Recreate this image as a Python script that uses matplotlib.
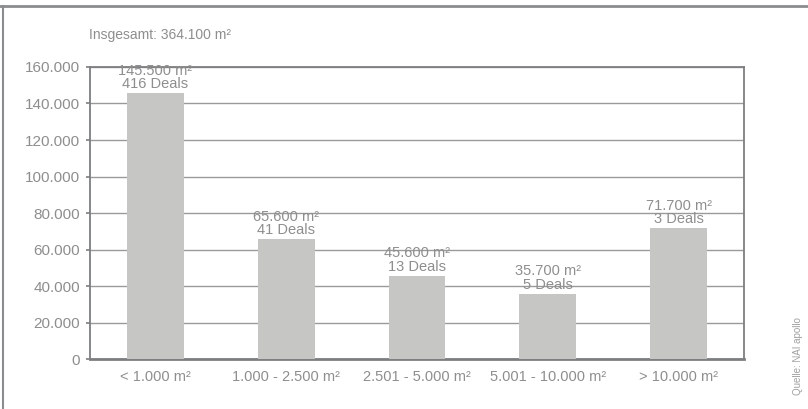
import matplotlib.pyplot as plt
from matplotlib.lines import Line2D

# Flächenumsatz nach Größenklassen
categories = ["< 1.000 m²", "1.000 - 2.500 m²", "2.501 - 5.000 m²",
              "5.001 - 10.000 m²", "> 10.000 m²"]
flaeche = [145500, 65600, 45600, 35700, 71700]
deals = [416, 41, 13, 5, 3]
yticks = [0, 20000, 40000, 60000, 80000, 100000, 120000, 140000, 160000]
gesamt = 364100


def fmt_de(v):
    return f"{v:,.0f}".replace(",", ".")


plt.rcParams['font.family'] = ['Liberation Sans', 'DejaVu Sans']
txt_col = '#8e8e8e'
bar_col = '#c6c6c4'
frame_col = '#7c7e80'

fig = plt.figure(figsize=(8.08, 4.09), dpi=100)
ax = fig.add_axes([0.1114, 0.1222, 0.8094, 0.714])

x = list(range(len(categories)))
bars = ax.bar(x, flaeche, width=0.435, color=bar_col, zorder=3)

for b, v, d in zip(bars, flaeche, deals):
    ax.annotate(f"{fmt_de(v)} m²\n{d} Deals",
                (b.get_x() + b.get_width() / 2, b.get_height()),
                xytext=(0, 1.5), textcoords='offset points',
                ha='center', va='bottom', fontsize=10.5, color=txt_col,
                linespacing=0.95, zorder=4)

ax.set_xlim(-0.5, len(categories) - 0.5)
ax.set_ylim(0, 160000)
ax.set_yticks(yticks)
ax.set_yticklabels([fmt_de(t) for t in yticks])
ax.set_xticks(x)
ax.set_xticklabels(categories)
ax.tick_params(axis='y', colors=frame_col, labelcolor=txt_col, labelsize=11,
               length=3, width=1.2, pad=4)
ax.tick_params(axis='x', length=0, labelcolor=txt_col, labelsize=10.5, pad=8)

ax.yaxis.grid(True, color='#9a9a9a', linewidth=1.0, zorder=0)
ax.set_axisbelow(True)
for side in ['left', 'top', 'right']:
    ax.spines[side].set_color(frame_col)
    ax.spines[side].set_linewidth(1.3)
ax.spines['bottom'].set_color(frame_col)
ax.spines['bottom'].set_linewidth(2.0)

fig.text(0.1102, 0.914, f"Insgesamt: {fmt_de(gesamt)} m²", fontsize=10,
         color=txt_col, ha='left', va='center')
fig.text(0.988, 0.034, "Quelle: NAI apollo", fontsize=7, color='#a0a0a0',
         rotation=90, ha='center', va='bottom')

# Rahmen oben und links
top_y = 1 - 5.5 / 409
fig.add_artist(Line2D([0, 1], [top_y, top_y], transform=fig.transFigure,
                      color='#8a8c8e', linewidth=2.0))
fig.add_artist(Line2D([3 / 808, 3 / 808], [0, top_y], transform=fig.transFigure,
                      color='#8a8c8e', linewidth=1.5))

fig.savefig("out.png", dpi=100)
